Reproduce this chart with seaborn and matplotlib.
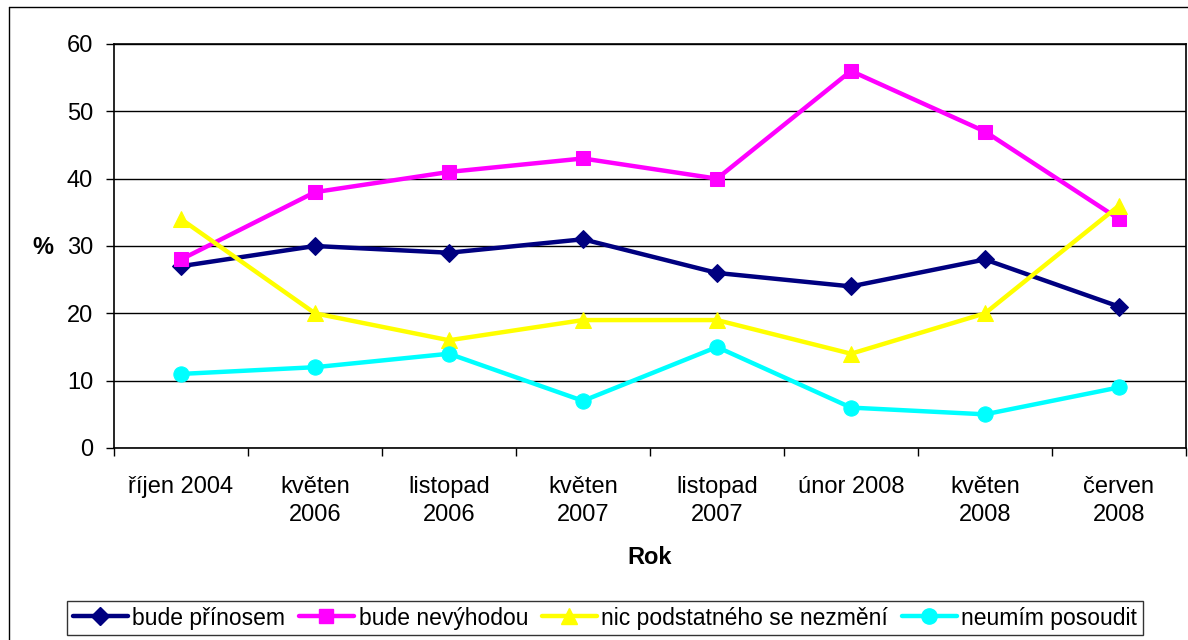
import matplotlib
matplotlib.use('Agg')
import matplotlib.pyplot as plt
import matplotlib.lines as mlines
import seaborn as sns
import pandas as pd
import numpy as np

# data
obdobi = ['říjen 2004', 'květen\n2006', 'listopad\n2006', 'květen\n2007',
          'listopad\n2007', 'únor 2008', 'květen\n2008', 'červen\n2008']
prinosem = [27, 30, 29, 31, 26, 24, 28, 21]
nevyhodou = [28, 38, 41, 43, 40, 56, 47, 34]
nezmeni = [34, 20, 16, 19, 19, 14, 20, 36]
neumim = [11, 12, 14, 7, 15, 6, 5, 9]

series = [
    ('bude přínosem', prinosem, '#000080', 'D', 9),
    ('bude nevýhodou', nevyhodou, '#FF00FF', 's', 10.5),
    ('nic podstatného se nezmění', nezmeni, '#FFFF00', '^', 11.5),
    ('neumím posoudit', neumim, '#00FFFF', 'o', 11),
]

sns.set_theme(style='white')
plt.rcParams['font.family'] = ['Liberation Sans', 'DejaVu Sans']
plt.rcParams['text.color'] = 'black'
plt.rcParams['xtick.color'] = 'black'
plt.rcParams['ytick.color'] = 'black'
plt.rcParams['xtick.labelcolor'] = 'black'
plt.rcParams['ytick.labelcolor'] = 'black'

FS = 17
fig = plt.figure(figsize=(11.88, 6.4), dpi=100)
ax = fig.add_axes([114 / 1188, 1 - 448 / 640, 1072 / 1188, 404 / 640])

x = np.arange(len(obdobi))
handles = []
for name, vals, color, marker, ms in series:
    df = pd.DataFrame({'x': x, 'y': vals})
    sns.lineplot(data=df, x='x', y='y', ax=ax, color=color, linewidth=3.2,
                 marker=marker, markersize=ms, markeredgecolor=color,
                 markerfacecolor=color, legend=False)
    handles.append(mlines.Line2D([], [], color=color, linewidth=3.2, marker=marker,
                                 markersize=ms, markeredgecolor=color, label=name))

ax.set_xlim(-0.5, len(obdobi) - 0.5)
ax.set_ylim(0, 60)
ax.set_yticks(range(0, 61, 10))
ax.set_xticks(x)
ax.set_xticklabels(obdobi, fontsize=FS, linespacing=1.35, va='top', color='black')
ax.set_xticks(np.arange(-0.5, len(obdobi), 1), minor=True)
ax.tick_params(axis='x', which='major', length=0, pad=20)
ax.tick_params(axis='x', which='minor', length=6, width=1, color='black', direction='out', bottom=True)
ax.tick_params(axis='y', length=6, width=1, color='black', direction='out', left=True,
               labelsize=FS, pad=9, labelcolor='black')
ax.grid(True, axis='y', color='black', linewidth=1)
ax.grid(False, axis='x')
for s in ax.spines.values():
    s.set_color('black')
    s.set_linewidth(1.2)
ax.set_xlabel('')
ax.set_ylabel('')

fig.text(43 / 1188, 1 - 247 / 640, '%', fontsize=FS, fontweight='bold', ha='center', va='center')
fig.text(650 / 1188, 1 - 557 / 640, 'Rok', fontsize=FS, fontweight='bold', ha='center', va='center')

leg = fig.legend(handles=handles, loc='center', bbox_to_anchor=(605 / 1188, 1 - 618 / 640),
                 ncol=4, frameon=True, fancybox=False, fontsize=FS - 0.5, handlelength=2.4,
                 handletextpad=0.2, columnspacing=0.6, borderpad=0.25, edgecolor='black')
leg.get_frame().set_linewidth(1)

# outer chart border (left and top visible)
fig.add_artist(mlines.Line2D([9 / 1188, 9 / 1188], [0, 1 - 7 / 640], color='black', linewidth=1))
fig.add_artist(mlines.Line2D([9 / 1188, 1], [1 - 7 / 640, 1 - 7 / 640], color='black', linewidth=1))

fig.savefig('out.png', dpi=100, facecolor='white')
